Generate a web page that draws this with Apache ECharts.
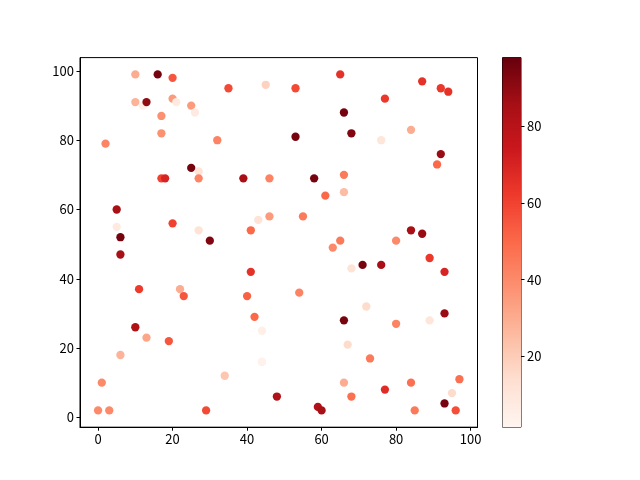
<!DOCTYPE html>
<html>
<head>
<meta charset="utf-8">
<script src="https://cdn.jsdelivr.net/npm/echarts@6/dist/echarts.min.js"></script>
<style>html,body{margin:0;padding:0;background:#fff}#c{width:640px;height:480px}</style>
</head>
<body>
<div id="c"></div>
<script>
// Data
const xs = [10,16,20,10,12,13,20,21,25,26,17,17,2,32,25,27,27,17,18,5,20,5,27,6,30,
            65,35,45,53,66,68,53,39,46,58,66,66,61,43,46,55,41,65,63,
            87,92,94,77,84,76,92,91,84,87,80,
            6,11,22,23,10,13,19,6,1,0,3,29,
            68,41,54,40,42,44,66,67,44,44,34,66,68,48,59,60,
            71,76,89,93,72,80,89,93,73,77,84,97,95,93,96,85];
const ys = [99,99,98,91,90,91,92,91,90,88,87,82,79,80,72,71,69,69,69,60,56,55,54,52,51,
            99,95,96,95,88,82,81,69,69,69,70,65,64,57,58,58,54,51,49,
            97,95,94,92,83,80,76,73,54,53,51,
            47,37,37,35,26,23,22,18,10,2,2,2,
            43,42,36,35,29,25,28,21,16,16,12,10,6,6,3,2,
            44,44,46,42,32,27,28,30,17,8,10,11,7,4,2,2];
const cs = [30,95,55,28,5,90,35,8,35,8,38,38,42,42,95,12,42,60,70,85,60,8,12,95,93,
            65,58,18,58,95,93,95,85,42,95,45,25,50,12,35,45,50,45,40,
            65,63,65,63,30,10,88,50,85,88,40,
            85,62,30,55,82,32,55,28,40,40,40,58,
            12,65,42,52,50,5,95,15,12,3,22,30,48,82,82,85,
            95,85,63,70,15,42,10,88,45,67,48,48,15,95,57,45];
const xTicks = [0,20,40,60,80,100];
const yTicks = [0,20,40,60,80,100];
const cbTicks = [20,40,60,80];
const cMin = 1.5, cMax = 98;
const reds = ['#fff5f0','#fee0d2','#fcbba1','#fc9272','#fb6a4a','#ef3b2c','#cb181d','#a50f15','#67000d'];

const points = xs.map((x,i)=>[x, ys[i], cs[i]]);
const font = {fontFamily:'Noto Sans CJK SC', fontSize:13, color:'#000'};
const chart = echarts.init(document.getElementById('c'), null, {renderer:'canvas'});
chart.setOption({
  animation:false,
  backgroundColor:'#fff',
  grid:[
    {left:80, top:57.6, width:397.5, height:369.6, show:true, borderColor:'#000', borderWidth:1, backgroundColor:'transparent', containLabel:false},
    {left:502.5, top:57.6, width:18.5, height:369.6, show:true, borderColor:'#000', borderWidth:1, backgroundColor:'transparent', containLabel:false}
  ],
  xAxis:[
    {type:'value', gridIndex:0, min:-4.85, max:101.85, splitLine:{show:false},
     axisLine:{show:true, onZero:false, lineStyle:{color:'#000'}},
     axisTick:{show:true, length:3.5, customValues:xTicks, lineStyle:{color:'#000'}},
     axisLabel:Object.assign({margin:5, customValues:xTicks}, font)},
    {type:'category', gridIndex:1, data:['cb'], show:false}
  ],
  yAxis:[
    {type:'value', gridIndex:0, min:-2.85, max:103.85, splitLine:{show:false},
     axisLine:{show:true, onZero:false, lineStyle:{color:'#000'}},
     axisTick:{show:true, length:3.5, customValues:yTicks, lineStyle:{color:'#000'}},
     axisLabel:Object.assign({margin:6, customValues:yTicks}, font)},
    {type:'value', gridIndex:1, position:'right', min:cMin, max:cMax, splitLine:{show:false},
     axisLine:{show:false},
     axisTick:{show:true, length:3.5, customValues:cbTicks, lineStyle:{color:'#000'}},
     axisLabel:Object.assign({margin:6, customValues:cbTicks}, font)}
  ],
  visualMap:{type:'continuous', show:false, seriesIndex:0, dimension:2, min:cMin, max:cMax,
             inRange:{color:reds}},
  series:[
    {type:'scatter', xAxisIndex:0, yAxisIndex:0, data:points, symbolSize:8.3,
     itemStyle:{opacity:1}},
    {type:'bar', xAxisIndex:1, yAxisIndex:1, data:[cMax], barWidth:'100%', silent:true,
     itemStyle:{color:new echarts.graphic.LinearGradient(0,1,0,0,
        reds.map((c,i)=>({offset:i/(reds.length-1), color:c})))}}
  ]
});
</script>
</body>
</html>
